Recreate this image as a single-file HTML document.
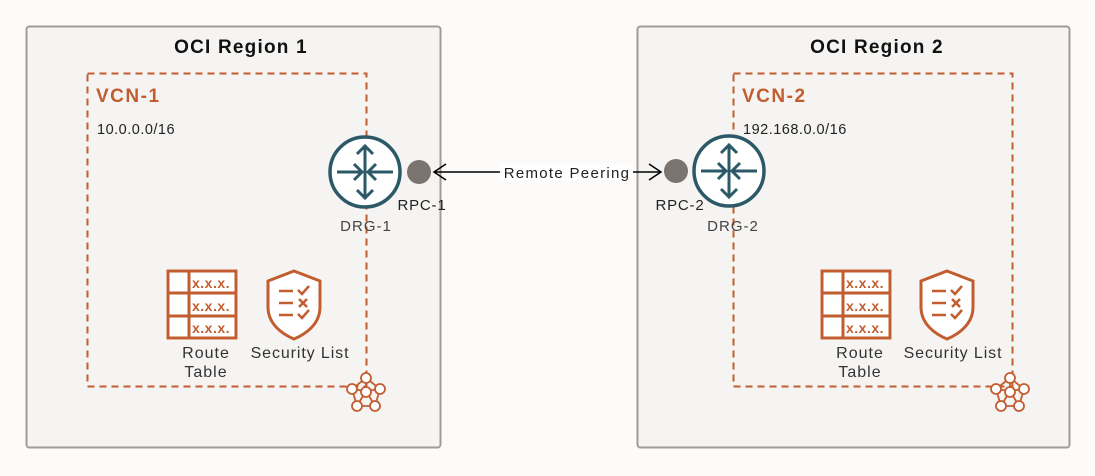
<!DOCTYPE html>
<html><head><meta charset="utf-8"><style>
html,body{margin:0;padding:0;background:#fcfbfa;}
svg{display:block;font-family:"Liberation Sans","Noto Sans CJK JP",sans-serif;}
</style></head><body>
<svg width="1095" height="476" viewBox="0 0 1095 476" xmlns="http://www.w3.org/2000/svg">
<defs>
<g id="drg">
  <circle r="35" fill="#fff" stroke="#2c5967" stroke-width="3.5"/>
  <g stroke="#2c5967" stroke-width="3" fill="none">
    <line x1="-28" y1="0" x2="-3" y2="0"/><polyline points="-11,-8 -3,0 -11,8"/>
    <line x1="28" y1="0" x2="3" y2="0"/><polyline points="11,-8 3,0 11,8"/>
    <line x1="0" y1="-26" x2="0" y2="26"/>
    <polyline points="-8,-18 0,-26 8,-18"/><polyline points="-8,18 0,26 8,18"/>
  </g>
</g>
<g id="rt">
  <rect x="0" y="0" width="72" height="71" fill="#fff"/>
  <g stroke="#c25d2f" stroke-width="3" fill="none">
    <rect x="2" y="2" width="68" height="67"/>
    <line x1="2" y1="24" x2="70" y2="24"/><line x1="2" y1="47" x2="70" y2="47"/>
    <line x1="23" y1="2" x2="23" y2="69"/>
  </g>
  <g fill="#c25d2f" font-size="14" font-weight="bold" letter-spacing="0.5">
    <text x="26" y="19">x.x.x.</text><text x="26" y="42">x.x.x.</text><text x="26" y="64">x.x.x.</text>
  </g>
</g>
<g id="sl" stroke="#c25d2f" stroke-width="3" fill="#fff">
  <path d="M28,2 L54,12 L54,38 C54,55 40,65 28,70 C16,65 2,55 2,38 L2,12 Z"/>
  <g fill="none" stroke-width="2.5">
    <line x1="13" y1="22" x2="27" y2="22"/><line x1="13" y1="34" x2="27" y2="34"/><line x1="13" y1="46" x2="27" y2="46"/>
    <polyline points="32,21 36,25 43,17"/><line x1="33" y1="30" x2="41" y2="38"/><line x1="41" y1="30" x2="33" y2="38"/>
    <polyline points="32,45 36,49 43,41"/>
  </g>
</g>
<g id="net" stroke="#c25d2f" stroke-width="1.8" fill="#fff">
  <g fill="none">
    <polygon points="0,-14 -14,-3 -9,14 9,14 14,-3"/>
    <line x1="0" y1="-14" x2="0" y2="-1"/><line x1="-14" y1="-3" x2="0" y2="-1"/><line x1="14" y1="-3" x2="0" y2="-1"/>
    <line x1="-9" y1="14" x2="0" y2="-1"/><line x1="9" y1="14" x2="0" y2="-1"/>
  </g>
  <circle cx="0" cy="-14" r="5"/><circle cx="-14" cy="-3" r="5"/><circle cx="14" cy="-3" r="5"/>
  <circle cx="-9" cy="14" r="5"/><circle cx="9" cy="14" r="5"/><circle cx="0" cy="0" r="5"/>
</g>
</defs>

<!-- Region 1 -->
<rect x="26.5" y="26.5" width="414" height="421" rx="3" fill="#f5f4f2" stroke="#a19b95" stroke-width="2"/>
<text x="241" y="53" font-size="19" font-weight="bold" text-anchor="middle" fill="#111" letter-spacing="1.2">OCI Region 1</text>
<rect x="87.5" y="73.5" width="279" height="313" fill="none" stroke="#c25d2f" stroke-width="2" stroke-dasharray="7,5"/>
<text x="96" y="102" font-size="19" font-weight="bold" fill="#c25d2f" letter-spacing="1.5">VCN-1</text>
<text x="97" y="134" font-size="14.5" fill="#222" letter-spacing="0.5">10.0.0.0/16</text>
<use href="#drg" x="365" y="172"/>
<text x="366" y="231" font-size="15" text-anchor="middle" fill="#444" letter-spacing="1">DRG-1</text>
<circle cx="419" cy="172" r="12" fill="#7a736e"/>
<text x="422" y="210" font-size="15" text-anchor="middle" fill="#222" letter-spacing="0.8">RPC-1</text>
<use href="#rt" x="166" y="269"/>
<use href="#sl" x="266" y="269"/>
<text x="206" y="358" font-size="16" text-anchor="middle" fill="#333" letter-spacing="1">Route</text>
<text x="206" y="377" font-size="16" text-anchor="middle" fill="#333" letter-spacing="1">Table</text>
<text x="300" y="358" font-size="16" text-anchor="middle" fill="#333" letter-spacing="0.9">Security List</text>
<use href="#net" x="366" y="392"/>

<!-- Region 2 -->
<rect x="637.5" y="26.5" width="432" height="421" rx="3" fill="#f5f4f2" stroke="#a19b95" stroke-width="2"/>
<text x="877" y="53" font-size="19" font-weight="bold" text-anchor="middle" fill="#111" letter-spacing="1.2">OCI Region 2</text>
<rect x="733.5" y="73.5" width="279" height="313" fill="none" stroke="#c25d2f" stroke-width="2" stroke-dasharray="7,5"/>
<text x="742" y="102" font-size="19" font-weight="bold" fill="#c25d2f" letter-spacing="1.5">VCN-2</text>
<text x="743" y="134" font-size="14.5" fill="#222" letter-spacing="0.5">192.168.0.0/16</text>
<use href="#drg" x="729" y="171"/>
<text x="733" y="231" font-size="15" text-anchor="middle" fill="#444" letter-spacing="1">DRG-2</text>
<circle cx="676" cy="171" r="12" fill="#7a736e"/>
<text x="680" y="210" font-size="15" text-anchor="middle" fill="#222" letter-spacing="0.8">RPC-2</text>
<use href="#rt" x="820" y="269"/>
<use href="#sl" x="919" y="269"/>
<text x="860" y="358" font-size="16" text-anchor="middle" fill="#333" letter-spacing="1">Route</text>
<text x="860" y="377" font-size="16" text-anchor="middle" fill="#333" letter-spacing="1">Table</text>
<text x="953" y="358" font-size="16" text-anchor="middle" fill="#333" letter-spacing="0.9">Security List</text>
<use href="#net" x="1010" y="392"/>

<!-- Connector -->
<line x1="434" y1="172" x2="661" y2="172" stroke="#000" stroke-width="1.5"/>
<polyline points="446,164 434,172 446,180" fill="none" stroke="#000" stroke-width="1.5"/>
<polyline points="649,164 661,172 649,180" fill="none" stroke="#000" stroke-width="1.5"/>
<rect x="500" y="164" width="133" height="16" fill="#fff"/>
<text x="567" y="178" font-size="15" text-anchor="middle" fill="#222" letter-spacing="1.3">Remote Peering</text>
</svg>
</body></html>
